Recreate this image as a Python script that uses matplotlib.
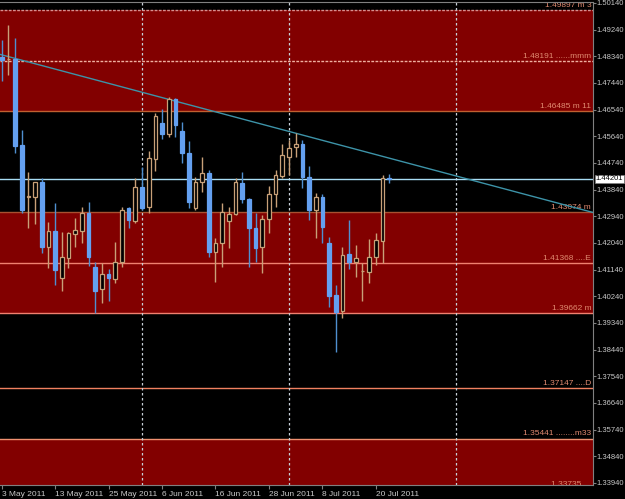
import numpy as np
import matplotlib
matplotlib.use('Agg')
import matplotlib.pyplot as plt
import matplotlib.transforms as mtransforms

# ── data: daily EURUSD bars, 3 May .. 22 Jul 2011 ─────────────────
opens = [1.48307, 1.48240, 1.48260, 1.45360, 1.43600, 1.43603, 1.44089, 1.41915,
         1.42445, 1.40849, 1.41544, 1.42344, 1.42455, 1.43063, 1.41240, 1.40477,
         1.40993, 1.40825, 1.41409, 1.43211, 1.42792, 1.43940, 1.43245, 1.44875,
         1.46100, 1.45719, 1.46890, 1.45820, 1.45087, 1.43211, 1.44109, 1.44392,
         1.41746, 1.42030, 1.42782, 1.43008, 1.44075, 1.43525, 1.42536, 1.41915,
         1.42850, 1.43684, 1.44301, 1.44953, 1.45290, 1.45381, 1.44277, 1.43154,
         1.43603, 1.42030, 1.40285, 1.39745, 1.41669, 1.41409, 1.41095, 1.41071,
         1.41557, 1.42117, 1.44220]
highs = [1.48891, 1.49397, 1.48969, 1.45854, 1.44426, 1.44109, 1.44224, 1.42759,
         1.43380, 1.42421, 1.42400, 1.42873, 1.43245, 1.43434, 1.41409, 1.41355,
         1.41152, 1.42064, 1.43265, 1.43265, 1.44224, 1.44615, 1.45145, 1.46437,
         1.46552, 1.46957, 1.46923, 1.46134, 1.45492, 1.44278, 1.44953, 1.44504,
         1.42199, 1.43380, 1.43265, 1.44224, 1.44446, 1.43569, 1.43042, 1.42985,
         1.43964, 1.44504, 1.45381, 1.45516, 1.45742, 1.45516, 1.44639, 1.43738,
         1.43694, 1.42252, 1.40623, 1.41915, 1.42816, 1.41972, 1.41355, 1.42165,
         1.42387, 1.44335, 1.44369]
lows = [1.47517, 1.47710, 1.45067, 1.43063, 1.42536, 1.42681, 1.41692, 1.41186,
        1.40623, 1.40420, 1.41196, 1.41915, 1.42030, 1.41274, 1.39667, 1.40005,
        1.40093, 1.40680, 1.41240, 1.42536, 1.42725, 1.43154, 1.43063, 1.44480,
        1.45540, 1.45607, 1.45607, 1.44750, 1.43211, 1.43154, 1.43771, 1.41577,
        1.40734, 1.41240, 1.41861, 1.42985, 1.43400, 1.41240, 1.41409, 1.41017,
        1.42367, 1.43265, 1.44224, 1.44335, 1.44932, 1.43906, 1.42816, 1.42199,
        1.42030, 1.39870, 1.38351, 1.39498, 1.41152, 1.40902, 1.40093, 1.40680,
        1.41297, 1.41355, 1.44075]
closes = [1.48216, 1.48250, 1.45324, 1.43154, 1.43610, 1.44089, 1.41915, 1.42445,
          1.41129, 1.41557, 1.42367, 1.42479, 1.43063, 1.41577, 1.40420, 1.40983,
          1.40869, 1.41409, 1.43154, 1.42816, 1.43940, 1.43231, 1.44899, 1.46326,
          1.45719, 1.46890, 1.46022, 1.45087, 1.43434, 1.44109, 1.44392, 1.41746,
          1.42030, 1.43096, 1.43008, 1.44109, 1.43525, 1.42536, 1.41861, 1.42850,
          1.43684, 1.44334, 1.45010, 1.45236, 1.45381, 1.44277, 1.43154, 1.43603,
          1.42590, 1.40251, 1.39721, 1.41635, 1.41409, 1.41524, 1.41095, 1.41557,
          1.42141, 1.44224, 1.44201]

date_pos = [0, 8, 16, 24, 32, 40, 48, 56]
date_labels = ['3 May 2011', '13 May 2011', '25 May 2011', '6 Jun 2011',
               '16 Jun 2011', '28 Jun 2011', '8 Jul 2011', '20 Jul 2011']

# murrey levels and their tags
levels = [1.49897, 1.48191, 1.46485, 1.43074, 1.41368, 1.39662, 1.37147, 1.35441, 1.33735]
level_tags = ['m 3', '......mmm', 'm 11', 'm', '....E', 'm', '....D', '........m33', '...']
bands = [(1.46485, 1.49897), (1.39662, 1.43074), (1.33735, 1.35441)]

separators = [21, 43, 68]          # month separators (bar index)
trend_pts = ([0, 88], [1.4839, 1.4310])
last_price = 1.44201
price_ticks = [round(1.50140 - 0.009 * k, 5) for k in range(19)]

# ── styles ────────────────────────────────────────────────────────
BG = 'black'
BAND = '#820000'
UP_LINE = '#c8a078'
DN_BODY = '#64a0f0'
DN_LINE = '#4f8fd0'
LVL_TXT = '#e08a70'
lvl_colors = ['#d89090', '#f0b0a0', '#c06030', '#a85030', '#f08070',
              '#f08070', '#f08060', '#f09070', '#f09070']
lvl_styles = [(0, (2, 1)), (0, (2, 1)), '-', '-', '-', '-', '-', '-', '-']
FONT = 'Liberation Sans'

fig = plt.figure(figsize=(6.25, 4.99), dpi=100)
fig.patch.set_facecolor(BG)
ax = fig.add_axes([0, 14 / 499, 593 / 625, 483 / 499])
ax.set_facecolor(BG)
ax.set_xlim(-0.25, 88.5)
ax.set_ylim(1.33872, 1.50173)

for lo, hi in bands:
    ax.axhspan(lo, hi, color=BAND, lw=0, zorder=0)

for lv, col, ls in zip(levels, lvl_colors, lvl_styles):
    ax.axhline(lv, color=col, lw=1, ls=ls, zorder=1)

trn = mtransforms.blended_transform_factory(ax.transAxes, ax.transData)
for lv, tag in zip(levels, level_tags):
    ax.text(0.997, lv + 0.0004, f'{lv:.5f} {tag}', transform=trn, ha='right',
            va='bottom', color=LVL_TXT, fontsize=6, family=FONT, zorder=2,
            clip_on=True)

for s in separators:
    ax.axvline(s, color='#c8d0d8', lw=0.9, ls=(0, (2, 2)), zorder=1)

ax.axhline(last_price, color='#a8dcf4', lw=1, zorder=1)

# trend line extended to the right edge
slope = (trend_pts[1][1] - trend_pts[1][0]) / (trend_pts[0][1] - trend_pts[0][0])
tx = np.array([-0.25, 88.5])
ax.plot(tx, trend_pts[1][0] + slope * (tx - trend_pts[0][0]), color='#3d93a8',
        lw=1, zorder=3)

# candles
x = np.arange(len(opens))
o = np.array(opens); c = np.array(closes)
up = c >= o
wick_col = np.where(up, UP_LINE, DN_LINE)
ax.vlines(x, lows, highs, colors=wick_col, lw=1, zorder=4)
ax.bar(x[up], (c - o)[up], bottom=o[up], width=0.55, color='black',
       edgecolor=UP_LINE, lw=0.9, zorder=5)
ax.bar(x[~up], (o - c)[~up], bottom=c[~up], width=0.55, color=DN_BODY,
       edgecolor=DN_BODY, lw=0.9, zorder=5)

# axes cosmetics
for side in ['top', 'right', 'bottom']:
    ax.spines[side].set_color('#808080')
ax.spines['left'].set_visible(False)
ax.yaxis.tick_right()
ax.set_yticks(price_ticks)
ax.set_yticklabels([f'{p:.5f}' for p in price_ticks])
ax.tick_params(axis='y', colors='#808080', length=2, pad=0.5, labelsize=5.5,
               labelcolor='#c8c8c8')
ax.set_xticks(date_pos)
ax.set_xticklabels(date_labels)
ax.tick_params(axis='x', colors='#808080', length=3, pad=1, labelsize=6,
               labelcolor='#c8c8c8')
for lab in ax.get_xticklabels() + ax.get_yticklabels():
    lab.set_family(FONT)
for lab in ax.get_xticklabels():
    lab.set_horizontalalignment('left')

ax.text(1.004, last_price, f'{last_price:.5f}', transform=trn, ha='left',
        va='center', fontsize=5.5, family=FONT, color='black', clip_on=False,
        bbox=dict(boxstyle='square,pad=0.1', fc='white', ec='#808080', lw=0.5))

fig.savefig('out.png', dpi=100, facecolor=BG)
